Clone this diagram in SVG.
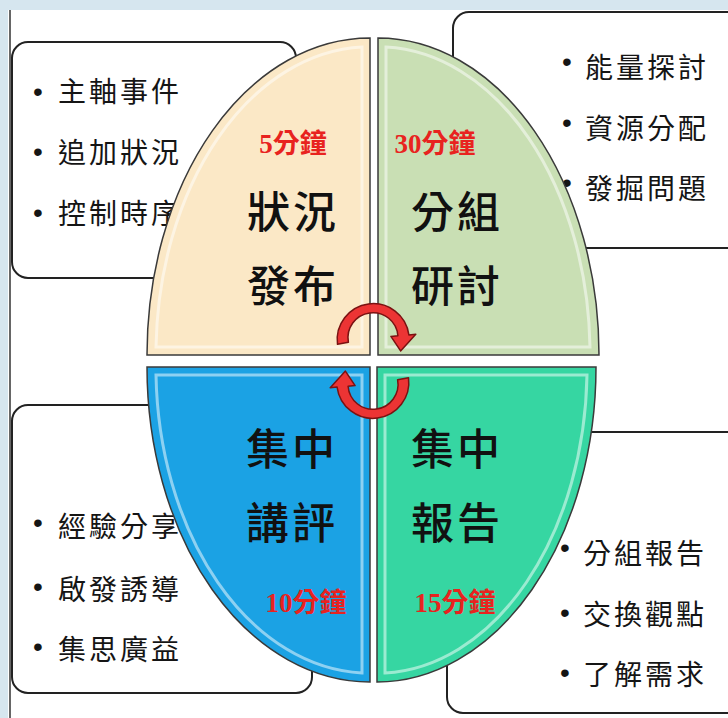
<svg xmlns="http://www.w3.org/2000/svg" width="728" height="718" viewBox="0 0 728 718">
<defs>
<style>
.box{fill:#ffffff;stroke:#222;stroke-width:2}
.bt{font-family:"Noto Sans CJK TC","Noto Sans CJK SC",sans-serif;font-size:28px;fill:#151515;letter-spacing:3px}
.bu{font-family:"Liberation Sans",sans-serif;font-size:28px;fill:#151515;text-anchor:middle}
.big{font-family:"Noto Sans CJK TC","Noto Sans CJK SC",sans-serif;font-size:43px;fill:#111;letter-spacing:3px;text-anchor:middle;font-weight:500}
.tm{font-family:"Liberation Serif","Noto Sans CJK TC",serif;font-size:27px;fill:#e8231f;font-weight:bold;text-anchor:middle}
.tmc{font-family:"Noto Sans CJK TC","Noto Sans CJK SC",sans-serif}
.q{stroke:#3a3a3a;stroke-width:1.5}
.bev{fill:none;stroke:#ffffff;stroke-opacity:0.5;stroke-width:3}
.arr{fill:#ec3434;stroke:#7a1212;stroke-width:1.5;stroke-linejoin:round}
</style>
</defs>
<rect x="0" y="0" width="728" height="718" fill="#ffffff"/>
<rect x="0" y="0" width="728" height="10" fill="#d6e6ef"/>
<rect x="0" y="0" width="8" height="718" fill="#d6e6ef"/>
<line x1="10" y1="10" x2="10" y2="718" stroke="#333" stroke-width="1.5"/>

<g id="box-top-left">
<rect class="box" x="12" y="42" width="284" height="236" rx="16"/>
<text class="bu" x="38" y="101">•</text>
<text class="bu" x="38" y="161">•</text>
<text class="bu" x="38" y="222">•</text>
<text class="bt" x="58" y="102">主軸事件</text>
<text class="bt" x="58" y="163">追加狀況</text>
<text class="bt" x="58" y="224">控制時序</text>
</g>
<g id="box-top-right">
<rect class="box" x="453" y="12" width="290" height="236" rx="16"/>
<text class="bu" x="567" y="71">•</text>
<text class="bu" x="567" y="132">•</text>
<text class="bu" x="567" y="192">•</text>
<text class="bt" x="585" y="78">能量探討</text>
<text class="bt" x="585" y="139">資源分配</text>
<text class="bt" x="585" y="199">發掘問題</text>
</g>
<g id="box-bottom-left">
<rect class="box" x="12" y="405" width="300" height="288" rx="16"/>
<text class="bu" x="38" y="532">•</text>
<text class="bu" x="38" y="596">•</text>
<text class="bu" x="38" y="656">•</text>
<text class="bt" x="58" y="537">經驗分享</text>
<text class="bt" x="58" y="600">啟發誘導</text>
<text class="bt" x="58" y="660">集思廣益</text>
</g>
<g id="box-bottom-right">
<rect class="box" x="447" y="432" width="296" height="281" rx="16"/>
<text class="bu" x="565" y="557">•</text>
<text class="bu" x="565" y="622">•</text>
<text class="bu" x="565" y="682">•</text>
<text class="bt" x="583" y="564">分組報告</text>
<text class="bt" x="583" y="625">交換觀點</text>
<text class="bt" x="583" y="685">了解需求</text>
</g>

<g id="quadrant-top-left">
<path class="q" d="M370 355 H147 A223 317 0 0 1 370 38 Z" fill="#fbe8c6"/>
<path class="bev" d="M362 347 H156 A214 308 0 0 1 362 47 Z"/>
<text class="tm" x="293" y="153">5<tspan class="tmc">分鐘</tspan></text>
<text class="big" x="293" y="228">狀況</text>
<text class="big" x="293" y="302">發布</text>
</g>
<g id="quadrant-top-right">
<path class="q" d="M378 355 V38 A221 317 0 0 1 599 355 Z" fill="#c9dfb4"/>
<path class="bev" d="M386 347 V47 A212 308 0 0 1 590 347 Z"/>
<text class="tm" x="435" y="153">30<tspan class="tmc">分鐘</tspan></text>
<text class="big" x="457" y="228">分組</text>
<text class="big" x="457" y="302">研討</text>
</g>
<g id="quadrant-bottom-left">
<path class="q" d="M370 367 V682 A223 315 0 0 1 147 367 Z" fill="#1ba2e4"/>
<path class="bev" d="M362 375 V673 A214 306 0 0 1 156 375 Z"/>
<text class="big" x="292" y="465">集中</text>
<text class="big" x="292" y="539">講評</text>
<text class="tm" x="306" y="612">10<tspan class="tmc">分鐘</tspan></text>
</g>
<g id="quadrant-bottom-right">
<path class="q" d="M377 367 H596 A219 315 0 0 1 377 682 Z" fill="#36d6a2"/>
<path class="bev" d="M385 375 H587 A210 306 0 0 1 385 673 Z"/>
<text class="big" x="457" y="465">集中</text>
<text class="big" x="457" y="539">報告</text>
<text class="tm" x="455" y="612">15<tspan class="tmc">分鐘</tspan></text>
</g>

<g id="connectors">
<path class="arr" d="M337.5 344.3 A36 36 0 1 1 408.9 334.9 L415.8 334.3 L400.6 350.9 L390.9 336.4 L397.9 335.8 A25 25 0 1 0 348.4 342.3 Z"/>
<path class="arr" d="M408.5 377.7 A36 36 0 1 1 337.1 387.1 L330.2 387.7 L345.4 371.1 L355.1 385.6 L348.1 386.2 A25 25 0 1 0 397.6 379.7 Z"/>
</g>
</svg>
